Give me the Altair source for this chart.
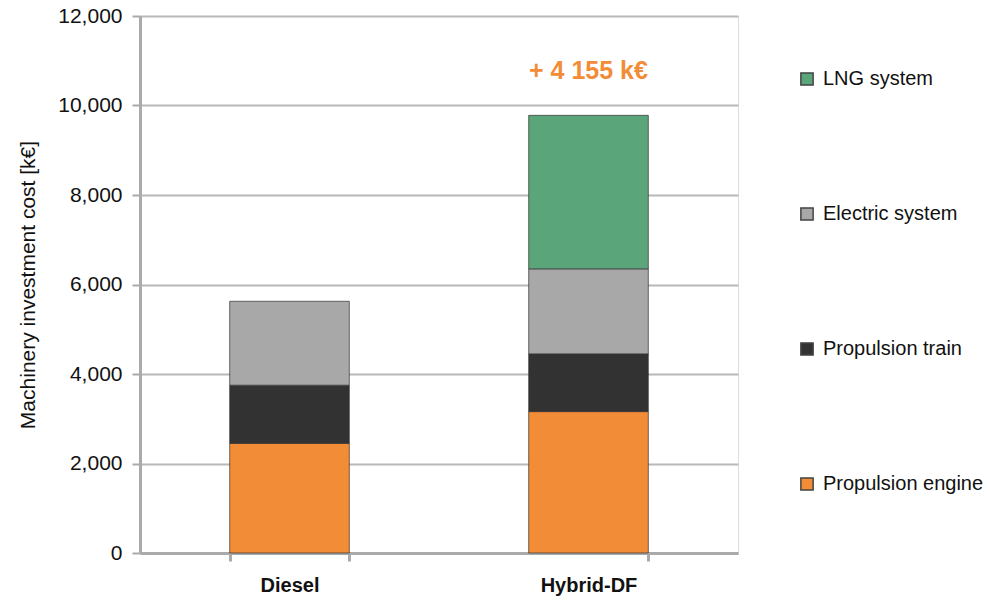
import altair as alt
import pandas as pd

# Machinery investment cost per configuration, in k€
configs = ["Diesel", "Hybrid-DF"]
components = ["LNG system", "Electric system", "Propulsion train", "Propulsion engine"]
colors = ["#5BA57A", "#A8A8A8", "#323232", "#F28C36"]
stack_rank = [3, 2, 1, 0]  # engine at the bottom, LNG on top

propulsion_engine = [2450, 3160]
propulsion_train = [1300, 1290]
electric_system = [1875, 1900]
lng_system = [0, 3430]

rows = []
for i, cfg in enumerate(configs):
    for comp, vals in zip(
        ["Propulsion engine", "Propulsion train", "Electric system", "LNG system"],
        [propulsion_engine, propulsion_train, electric_system, lng_system],
    ):
        if vals[i] > 0:
            rows.append({"config": cfg, "component": comp, "cost": vals[i],
                         "rank": stack_rank[components.index(comp)]})
df = pd.DataFrame(rows)

totals = df.groupby("config")["cost"].sum()
extra = int(totals["Hybrid-DF"] - totals["Diesel"])
extra_label = "+ " + f"{extra:,}".replace(",", " ") + " k€"
ann = pd.DataFrame({"config": ["Hybrid-DF"], "cost": [totals["Hybrid-DF"]], "label": [extra_label]})

FONT = "Liberation Sans"

x_enc = alt.X(
    "config:N",
    sort=configs,
    title=None,
    scale=alt.Scale(paddingInner=0.6, paddingOuter=0.3),
    axis=alt.Axis(
        labelAngle=0, labelFont=FONT, labelFontSize=20, labelFontWeight="bold",
        labelColor="#111", labelPadding=14, domainColor="#aaaaaa", domainWidth=3,
        tickColor="#aaaaaa", tickWidth=3, tickSize=8, tickBand="extent", grid=False,
    ),
)

bars = alt.Chart(df).mark_bar(stroke="#333333", strokeWidth=1, strokeOpacity=0.7).encode(
    x=x_enc,
    y=alt.Y(
        "cost:Q",
        stack="zero",
        title="Machinery investment cost [k€]",
        scale=alt.Scale(domain=[0, 12000], nice=False),
        axis=alt.Axis(
            values=[0, 2000, 4000, 6000, 8000, 10000, 12000], format=",d",
            labelFont=FONT, labelFontSize=21, labelColor="#111", labelPadding=10,
            titleFont=FONT, titleFontSize=21, titleFontWeight="normal", titleColor="#111",
            titlePadding=19, domainColor="#aaaaaa", domainWidth=3,
            tickColor="#aaaaaa", tickWidth=2, tickSize=8,
            gridColor="#b8b8b8", gridWidth=2,
        ),
    ),
    color=alt.Color(
        "component:N",
        scale=alt.Scale(domain=components, range=colors),
        legend=alt.Legend(
            title=None, orient="none", legendX=657, legendY=53, padding=0,
            symbolType="square", symbolSize=150, symbolStrokeColor="#444444",
            symbolStrokeWidth=1.5, labelFont=FONT, labelFontSize=20, labelColor="#111",
            labelOffset=6, labelLimit=300, rowPadding=115,
        ),
    ),
    order=alt.Order("rank:Q", sort="ascending"),
)

note = alt.Chart(ann).mark_text(
    font=FONT, fontSize=25, fontWeight="bold", color="#F28C36", dy=-44, baseline="middle"
).encode(x=alt.X("config:N", sort=configs), y="cost:Q", text="label:N")

chart = (
    alt.layer(bars, note)
    .properties(
        width=598, height=537,
        autosize=alt.AutoSizeParams(type="none"),
        padding={"left": 140, "top": 16, "right": 252, "bottom": 49},
    )
    .configure_view(stroke=None)
    .configure(background="white")
)

chart.save("out.html", embed_options={"renderer": "svg", "actions": False})
